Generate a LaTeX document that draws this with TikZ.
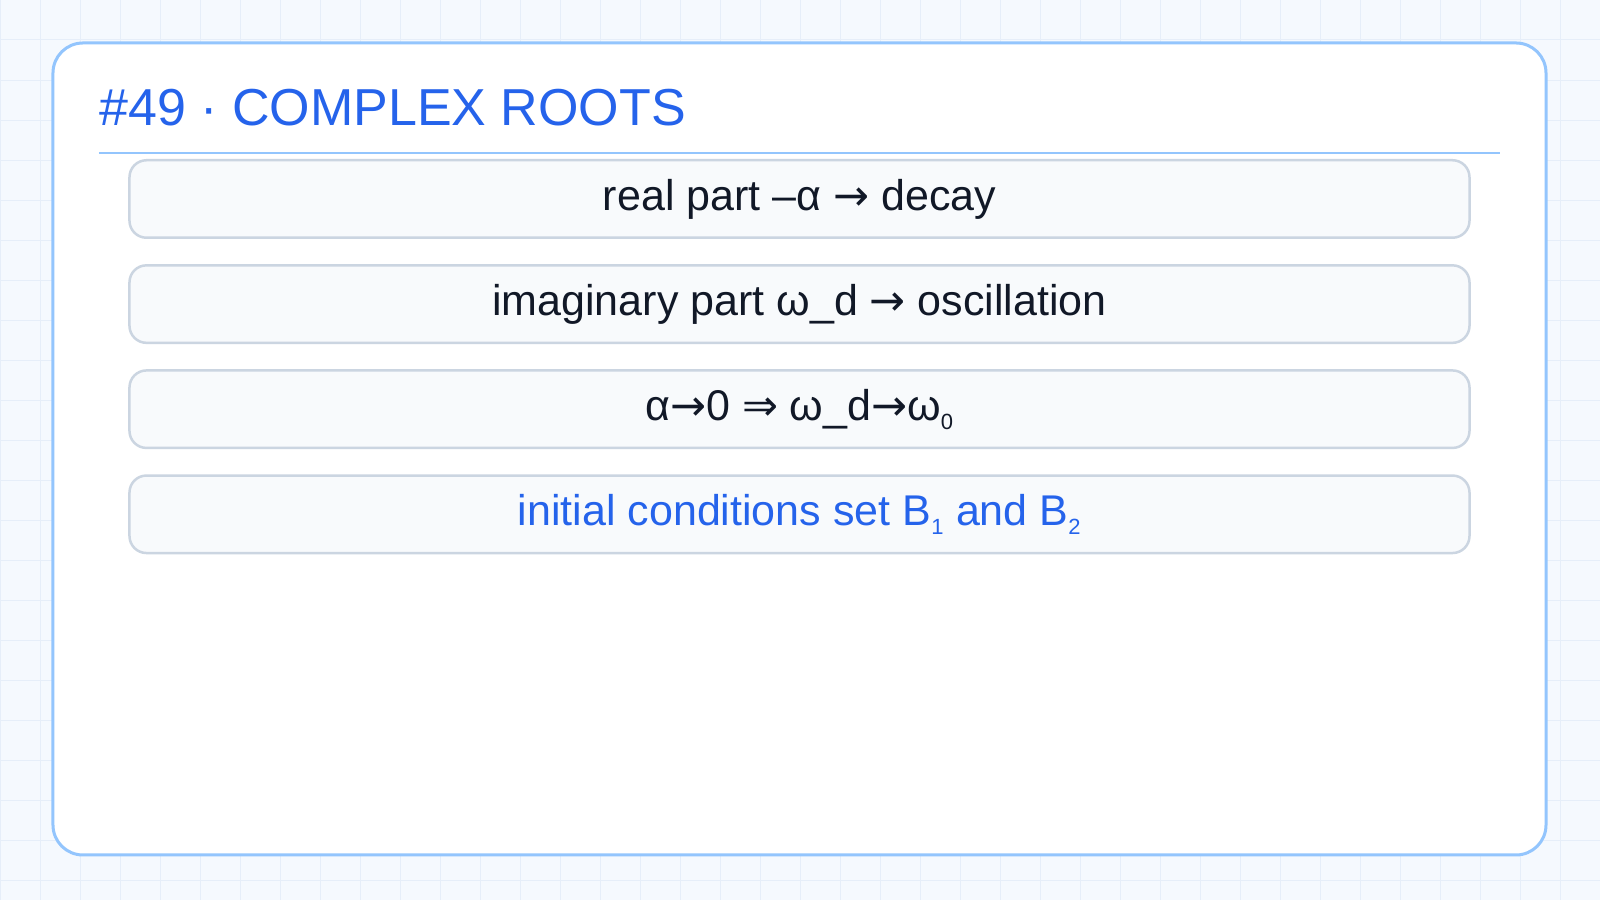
\documentclass[tikz,border=0pt]{standalone}
\usepackage{fontspec}
\setmainfont{Liberation Sans}
\newfontfamily\symf{DejaVu Sans}
\definecolor{bg}{HTML}{F5F9FE}
\definecolor{gridc}{HTML}{E6EEF9}
\definecolor{cardb}{HTML}{93C5FD}
\definecolor{boxf}{HTML}{F8FAFC}
\definecolor{boxb}{HTML}{CBD5E1}
\definecolor{ink}{HTML}{111827}
\definecolor{accent}{HTML}{2563EB}
\newcommand{\sbs}[1]{\textsubscript{\fontsize{22}{24}\selectfont\raisebox{-0.45ex}{#1}}}
\tikzset{
  item/.style={draw=boxb, line width=2.5pt, fill=boxf, rounded corners=17pt, minimum width=1340pt, minimum height=77.5pt, inner sep=0pt, font=\fontsize{43}{50}\selectfont, text=ink},
}
\begin{document}
\begin{tikzpicture}[x=1.0204pt,y=-1.0204pt]
\useasboundingbox (0,0) rectangle (1568,882);
\fill[bg] (0,0) rectangle (1568,882);
\foreach \i in {0,...,40} {\draw[gridc, line width=1pt] (\i*39.2,0) -- (\i*39.2,882);}
\foreach \j in {0,...,22} {\draw[gridc, line width=1pt] (0,\j*39.2) -- (1568,\j*39.2);}
\node[draw=cardb, line width=3pt, fill=white, rounded corners=30pt, minimum width=1493pt, minimum height=812pt, inner sep=0pt] (card) at (783.5,440) {};
\node[anchor=base west, text=accent, font=\fontsize{52}{60}\selectfont, inner sep=0pt] (title) at (97,123) {\#49 · COMPLEX ROOTS};
\coordinate (rl) at (97,150);
\coordinate (rr) at (1470,150);
\draw[cardb, line width=2pt] (rl) -- (rr);
\node[item] (b1) at (783.5,195) {real part –α {\symf →} decay};
\node[item] (b2) at (783.5,298) {imaginary part ω\_d {\symf →} oscillation};
\node[item] (b3) at (783.5,401) {α{\symf →}0 {\symf ⇒} ω\_d{\symf →}ω\sbs{0}};
\node[item, text=accent] (b4) at (783.5,504) {initial conditions set B\sbs{1} and B\sbs{2}};
\end{tikzpicture}
\end{document}
